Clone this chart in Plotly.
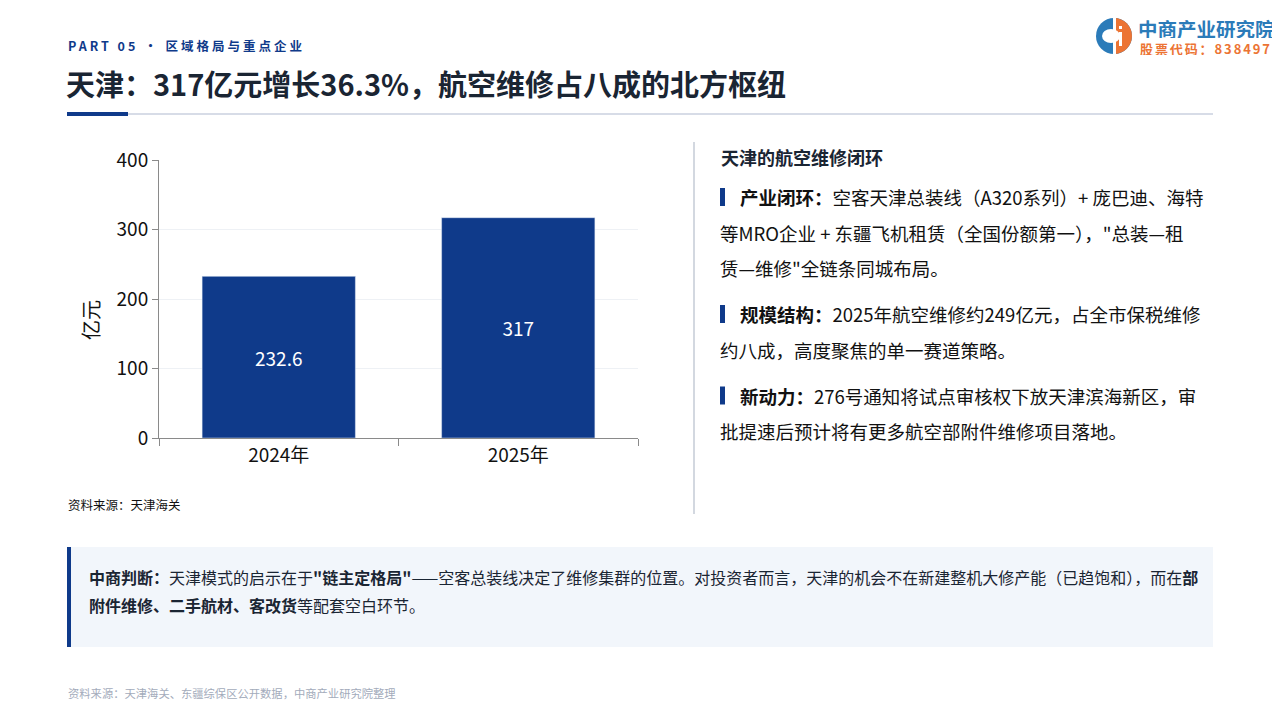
import plotly.graph_objects as go

# --- data ---
years = ["2024年", "2025年"]
values = [232.6, 317]
y_ticks = [0, 100, 200, 300, 400]

section = "PART 05 · 区域格局与重点企业"
title = "天津：317亿元增长36.3%，航空维修占八成的北方枢纽"
chart_source = "资料来源：天津海关"
side_heading = "天津的航空维修闭环"
bullet_labels = ["产业闭环：", "规模结构：", "新动力："]
bullet_lines = [
    ["空客天津总装线（A320系列）+ 庞巴迪、海特",
     "等MRO企业 + 东疆飞机租赁（全国份额第一），\"总装—租",
     "赁—维修\"全链条同城布局。"],
    ["2025年航空维修约249亿元，占全市保税维修",
     "约八成，高度聚焦的单一赛道策略。"],
    ["276号通知将试点审核权下放天津滨海新区，审",
     "批提速后预计将有更多航空部附件维修项目落地。"],
]
judge_lines = [
    "<b>中商判断：</b>天津模式的启示在于<b>\"链主定格局\"</b>——空客总装线决定了维修集群的位置。"
    "对投资者而言，天津的机会不在新建整机大修产能（已趋饱和），而在<b>部</b>",
    "<b>附件维修、二手航材、客改货</b>等配套空白环节。",
]
footer = "资料来源：天津海关、东疆综保区公开数据，中商产业研究院整理"
logo_name = "中商产业研究院"
logo_code = "股票代码：838497"

NAVY = "#0f3a8a"
INK = "#1a2533"
FONT = "Noto Sans CJK SC"
# page body has an 8px margin, so the figure starts at (8, 8)
OFF = 8
W, H = 1272, 712


def px(x):
    return (x - OFF) / W


def py(y):
    return 1 - (y - OFF) / H


fig = go.Figure()
fig.add_trace(go.Bar(
    x=years, y=values, marker_color=NAVY, width=0.64,
    text=[f"{v:g}" for v in values], textposition="inside",
    insidetextanchor="middle", textangle=0,
    textfont=dict(color="white", size=19, family=FONT),
    hoverinfo="skip",
))

shapes = []
annotations = []


def rect(x0, y0, x1, y1, color, layer="below"):
    shapes.append(dict(type="rect", xref="paper", yref="paper",
                       x0=px(x0), x1=px(x1), y0=py(y1), y1=py(y0),
                       fillcolor=color, line_width=0, layer=layer))


def label(x, y, text, size, color=INK, anchor="left", **kw):
    annotations.append(dict(xref="paper", yref="paper", x=px(x), y=py(y),
                            text=text, showarrow=False, xanchor=anchor,
                            yanchor="middle",
                            font=dict(size=size, color=color, family=FONT), **kw))


# header
label(66, 45, f'<span style="letter-spacing:3px"><b>{section}</b></span>', 12.5, NAVY)
label(64, 83, f"<b>{title}</b>", 29, INK)
rect(67, 113, 1213, 115, "#d7dce7")
rect(67, 112, 128, 116, NAVY)

# logo
cx, cy, r = 1114, 36, 18
shapes.append(dict(type="circle", xref="paper", yref="paper",
                   x0=px(cx - r), x1=px(cx + r), y0=py(cy + r), y1=py(cy - r),
                   fillcolor="#2b7bb9", line_width=0))
k = 0.5523 * r
half = (f"M {px(cx)},{py(cy - r)} "
        f"C {px(cx + k)},{py(cy - r)} {px(cx + r)},{py(cy - k)} {px(cx + r)},{py(cy)} "
        f"C {px(cx + r)},{py(cy + k)} {px(cx + k)},{py(cy + r)} {px(cx)},{py(cy + r)} Z")
shapes.append(dict(type="path", xref="paper", yref="paper", path=half,
                   fillcolor="#ec7434", line_width=0))
shapes.append(dict(type="circle", xref="paper", yref="paper",
                   x0=px(cx - 12), x1=px(cx + 6), y0=py(cy + 7), y1=py(cy - 7),
                   fillcolor="white", line_width=0))
rect(cx - 1, cy - r - 1, cx + 2, cy + r + 1, "white", "above")
rect(cx + 5, cy - 4, cx + 8, cy + 10, "white", "above")
rect(cx + 5, cy - 10, cx + 8, cy - 7, "white", "above")
label(1136, 28, f"<b>{logo_name}</b>", 19.5, "#2b7bb9", height=20)
label(1138, 48, f'<span style="letter-spacing:1.9px"><b>{logo_code}</b></span>', 13,
      "#ec7434", height=14)

# chart bits
label(90, 320, "亿元", 20, "#111111", anchor="center", textangle=-90)
label(66, 504, chart_source, 12.5, "#111111")

# divider
rect(693, 142, 695, 514, "#d3d8e0")

# side panel
label(719, 157, f"<b>{side_heading}</b>", 18, INK)
line_y = 197
for lab, lines in zip(bullet_labels, bullet_lines):
    rect(720, line_y - 9, 725, line_y + 9, NAVY)
    label(738, line_y, f"<b>{lab}</b>{lines[0]}", 18.5, "#111111")
    for ln in lines[1:]:
        line_y += 35.5
        label(718, line_y, ln, 18.5, "#111111")
    line_y += 46

# judgement box
rect(67, 547, 1213, 647, "#f2f6fb")
rect(67, 547, 71, 647, NAVY)
label(87, 577, judge_lines[0], 16, INK)
label(87, 605, judge_lines[1], 16, INK)

# footer
label(66, 693, footer, 11.3, "#a3abbb")

fig.update_layout(
    width=W, height=H, margin=dict(l=0, r=0, t=0, b=0),
    paper_bgcolor="white", plot_bgcolor="white", showlegend=False,
    font=dict(family=FONT, color="#111111"),
    shapes=shapes, annotations=annotations,
    xaxis=dict(domain=[px(159), px(638)], automargin=False, showline=True,
               linecolor="#8a8a8a", ticks="outside", tickson="boundaries",
               ticklen=7, tickcolor="#8a8a8a",
               tickfont=dict(size=19, family=FONT, color="#111111")),
    yaxis=dict(domain=[py(438), py(160)], automargin=False, range=[0, 400],
               tickvals=y_ticks, showline=True, linecolor="#8a8a8a",
               ticks="outside", ticklen=6, tickcolor="#8a8a8a",
               gridcolor="#eef1f5", zeroline=False,
               tickfont=dict(size=19, family=FONT, color="#111111")),
)

fig.write_html("out.html")
